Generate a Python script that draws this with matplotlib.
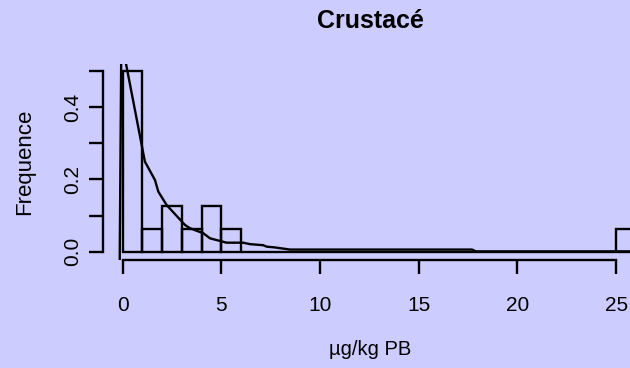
import matplotlib
matplotlib.use('Agg')
import matplotlib.pyplot as plt

plt.rcParams['font.family'] = ['Liberation Sans', 'DejaVu Sans']

BG = '#CCCCFF'

title = 'Crustacé'
xlabel = 'µg/kg PB'
ylabel = 'Frequence'

# histogram bins (width 1, from 0 to 26) and density heights
bin_left = [0, 1, 2, 3, 4, 5, 6, 7, 8, 9, 10, 11, 12, 13, 14, 15, 16, 17, 18,
            19, 20, 21, 22, 23, 24, 25]
freq = [0.5, 0.0625, 0.125, 0.0625, 0.125, 0.0625, 0, 0, 0, 0, 0, 0, 0, 0, 0,
        0, 0, 0, 0, 0, 0, 0, 0, 0, 0, 0.0625]

# density curve
dens_x = [-0.15, -0.06, 0.08, 0.17, 1.13, 1.64, 1.81, 2.23, 3.16, 3.41, 4.09,
          4.43, 5.27, 6.1, 6.45, 7.13, 7.3, 7.7, 8.48, 12.0, 17.7, 17.9, 26.5]
dens_y = [-0.05, 0.62, 0.62, 0.52, 0.249, 0.198, 0.166, 0.129, 0.074, 0.065,
          0.051, 0.037, 0.025, 0.025, 0.021, 0.018, 0.014, 0.012, 0.006, 0.006,
          0.006, 0.001, 0.001]

xticks = [0, 5, 10, 15, 20, 25]
yticks = [0.0, 0.1, 0.2, 0.3, 0.4, 0.5]
yticklabels = ['0.0', '', '0.2', '', '0.4', '']

fig = plt.figure(figsize=(6.3, 3.68), dpi=100, facecolor=BG)
ax = fig.add_axes([0.1635, 0.2943, 0.8476, 0.5331])
ax.set_facecolor(BG)

lw = 1.7
ax.bar(bin_left, freq, width=1, align='edge', fill=False,
       edgecolor='black', linewidth=lw)
ax.plot(dens_x, dens_y, color='black', linewidth=lw)

ax.set_xlim(-0.993, 26.06)
ax.set_ylim(-0.022, 0.52)

for s in ['top', 'right']:
    ax.spines[s].set_visible(False)
ax.spines['left'].set_bounds(0, 0.5)
ax.spines['bottom'].set_bounds(0, 25)
for s in ['left', 'bottom']:
    ax.spines[s].set_linewidth(lw)

ax.set_xticks(xticks)
ax.set_xticklabels([str(t) for t in xticks])
ax.set_yticks(yticks)
ax.set_yticklabels(yticklabels)
ax.tick_params(axis='x', length=10, width=lw, pad=16, labelsize=15)
ax.tick_params(axis='y', length=10, width=lw, pad=5, labelsize=15)
for lab in ax.get_yticklabels():
    lab.set_rotation(90)
    lab.set_va('center')

ax.set_title(title, fontsize=18, fontweight='bold', y=1.215, pad=0, va='center')
ax.set_xlabel(xlabel, fontsize=14.5)
ax.xaxis.label.set_va('center')
ax.xaxis.set_label_coords(0.5, -0.46)
ax.set_ylabel(ylabel, fontsize=16)
ax.yaxis.label.set_va('center')
ax.yaxis.set_label_coords(-0.146, 0.5)

fig.savefig('out.png', dpi=100, facecolor=BG)
